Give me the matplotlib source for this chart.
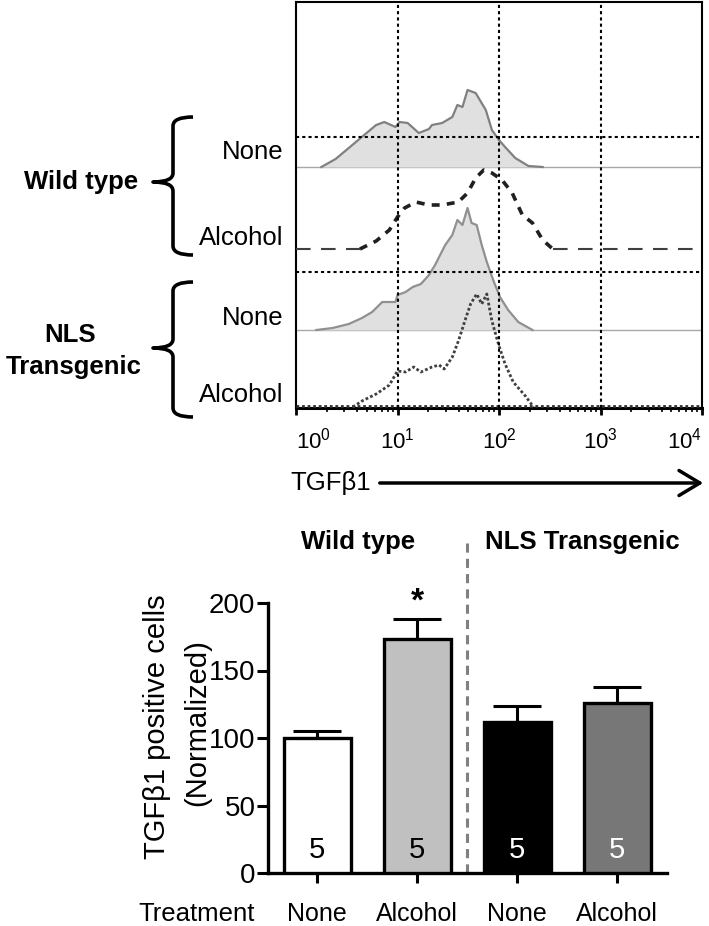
import numpy as np
import matplotlib
matplotlib.use("Agg")
import matplotlib.pyplot as plt
from matplotlib.path import Path
from matplotlib.patches import PathPatch
from matplotlib.ticker import LogLocator, NullFormatter

plt.rcParams['font.family'] = ['Liberation Sans', 'DejaVu Sans']
plt.rcParams['mathtext.fontset'] = 'custom'
plt.rcParams['mathtext.rm'] = 'Liberation Sans'
plt.rcParams['mathtext.it'] = 'Liberation Sans:italic'

W, H = 709, 926

# ---- flow histograms (x in log10 of TGFb1 intensity, height in arbitrary units) ----
wt_none_logx = [0.25, 0.39, 0.52, 0.66, 0.79, 0.87, 0.98, 1.02, 1.10, 1.21, 1.31, 1.34,
                1.44, 1.54, 1.59, 1.64, 1.69, 1.77, 1.87, 1.93, 2.00, 2.06, 2.16, 2.29, 2.43]
wt_none_h = [0, 8, 19, 31, 42, 45, 40, 45, 44, 34, 38, 42,
             44, 50, 62, 60, 77, 74, 57, 37, 27, 20, 9, 1, 0]

wt_alc_logx = [0.63, 0.79, 0.92, 1.00, 1.07, 1.18, 1.31, 1.44, 1.60, 1.69, 1.77, 1.85,
               1.93, 2.03, 2.13, 2.23, 2.33, 2.43, 2.53]
wt_alc_h = [0, 8, 19, 32, 41, 47, 44, 44, 47, 56, 71, 79,
            76, 69, 56, 34, 26, 9, 0]

nls_none_logx = [0.20, 0.36, 0.52, 0.65, 0.75, 0.85, 0.98, 1.00, 1.08, 1.15, 1.23, 1.31,
                 1.37, 1.47, 1.54, 1.59, 1.64, 1.69, 1.73, 1.78, 1.83, 1.88, 1.95, 2.01,
                 2.09, 2.19, 2.33]
nls_none_h = [0, 2, 6, 12, 18, 28, 28, 35, 38, 43, 46, 55,
              65, 85, 95, 110, 105, 122, 107, 105, 85, 68, 48, 33,
              20, 8, 0]

nls_alc_logx = [0.56, 0.65, 0.79, 0.92, 1.00, 1.08, 1.16, 1.23, 1.34, 1.41, 1.46, 1.54,
                1.60, 1.67, 1.72, 1.78, 1.83, 1.88, 1.93, 2.00, 2.06, 2.14, 2.26, 2.34]
nls_alc_h = [0, 6, 13, 22, 36, 35, 40, 35, 40, 42, 38, 50,
             66, 88, 103, 113, 103, 113, 86, 61, 43, 25, 11, 0]

decades = [1, 10, 100, 1000, 10000]
decade_labels = ['$10^0$', '$10^1$', '$10^2$', '$10^3$', '$10^4$']

# ---- bar chart ----
groups = ['None', 'Alcohol', 'None', 'Alcohol']
means = [100, 173, 112, 126]
sems = [5, 15, 12, 12]
n_mice = [5, 5, 5, 5]
bar_colors = ['white', '#c0c0c0', 'black', '#777777']
n_colors = ['black', 'black', 'white', 'white']


def fx(px):
    return px / W


def fy(py):
    return 1 - py / H


fig = plt.figure(figsize=(W / 100, H / 100), dpi=100)

# ================= top: histograms =================
ax = fig.add_axes([fx(296), fy(408), 406 / W, 406 / H])
ax.set_xscale('log')
ax.set_xlim(1, 10000)
ax.set_ylim(0, 406)

offsets = [241, 159, 78, 0]
x_full = np.array([1, 10000])

# wild type, none: grey filled
xs = 10 ** np.array(wt_none_logx)
ys = np.array(wt_none_h) + offsets[0]
ax.plot(x_full, [offsets[0]] * 2, color='#a8a8a8', lw=1, zorder=1)
ax.fill_between(xs, offsets[0], ys, color='#e0e0e0', lw=0, zorder=1)
ax.plot(xs, ys, color='#808080', lw=1.6, zorder=2)

# nls none: grey filled
xs = 10 ** np.array(nls_none_logx)
ys = np.array(nls_none_h) + offsets[2]
ax.plot(x_full, [offsets[2]] * 2, color='#a8a8a8', lw=1, zorder=1)
ax.fill_between(xs, offsets[2], ys, color='#e0e0e0', lw=0, zorder=1)
ax.plot(xs, ys, color='#909090', lw=1.6, zorder=2)

# wild type, alcohol: dashed
xs = 10 ** np.array(wt_alc_logx)
ys = np.array(wt_alc_h) + offsets[1]
ax.plot([1, xs[0]], [offsets[1]] * 2, color='#404040', lw=1.5, ls=(0, (7, 5)), zorder=3)
ax.plot([xs[-1], 10000], [offsets[1]] * 2, color='#404040', lw=1.5, ls=(0, (7, 5)), zorder=3)
ax.plot(xs, ys, color='#202020', lw=2.6, ls=(0, (2.2, 2)), zorder=3)

# nls alcohol: dotted
xs = 10 ** np.array(nls_alc_logx)
ys = np.array(nls_alc_h) + offsets[3] + 1
ax.plot(x_full, [1.5, 1.5], color='#303030', lw=2, ls=(0, (1, 1)), zorder=3)
ax.plot(xs, ys, color='#404040', lw=2, ls=(0, (1, 0.8)), zorder=3)

# dotted grid
for d in decades[1:4]:
    ax.axvline(d, color='black', lw=1.5, ls=(0, (1.5, 1.5)), zorder=4)
for hy in [271, 136]:
    ax.axhline(hy, color='black', lw=1.5, ls=(0, (1.5, 1.5)), zorder=4)

ax.set_yticks([])
ax.set_xticks(decades)
ax.set_xticklabels(decade_labels, fontsize=16)
tl = ax.get_xticklabels()
tl[0].set_ha('left')
tl[-1].set_ha('right')
ax.xaxis.set_minor_locator(LogLocator(base=10, subs=range(2, 10)))
ax.xaxis.set_minor_formatter(NullFormatter())
ax.tick_params(axis='x', which='major', direction='out', length=5, width=2, pad=9)
ax.tick_params(axis='x', which='minor', direction='out', length=3, width=1.2)
for s in ['left', 'top', 'right']:
    ax.spines[s].set_linewidth(1.5)
ax.spines['bottom'].set_linewidth(2.2)

# row labels
row_y = [152, 238, 318, 395]
row_txt = ['None', 'Alcohol', 'None', 'Alcohol']
for t, yy in zip(row_txt, row_y):
    fig.text(fx(283), fy(yy), t, ha='right', va='center', fontsize=18.5)

fig.text(fx(81), fy(182), 'Wild type', ha='center', va='center', fontsize=18.5, fontweight='bold')
fig.text(fx(70), fy(335), 'NLS', ha='center', va='center', fontsize=18.5, fontweight='bold')
fig.text(fx(74), fy(367), 'Transgenic', ha='center', va='center', fontsize=18.5, fontweight='bold')


def brace(x, ytop, ybot, ymid):
    w, tip, r = 20, 20, 9
    pts = [(x + w, ytop), (x, ytop), (x, ytop + r),
           (x, ymid - r), (x, ymid), (x - tip, ymid),
           (x, ymid), (x, ymid + r),
           (x, ybot - r), (x, ybot), (x + w, ybot)]
    codes = [Path.MOVETO, Path.CURVE3, Path.CURVE3,
             Path.LINETO, Path.CURVE3, Path.CURVE3,
             Path.CURVE3, Path.CURVE3,
             Path.LINETO, Path.CURVE3, Path.CURVE3]
    verts = [(fx(px), fy(py)) for px, py in pts]
    p = PathPatch(Path(verts, codes), transform=fig.transFigure, fill=False,
                  lw=2.6, edgecolor='black', capstyle='butt', joinstyle='round')
    fig.add_artist(p)


brace(173, 117, 255, 182)
brace(173, 282, 417, 348)

# TGFb1 arrow
fig.text(fx(290), fy(483), 'TGFβ1', ha='left', va='center', fontsize=18.5)
fig.add_artist(matplotlib.patches.FancyArrowPatch(
    (fx(377), fy(483)), (fx(706), fy(483)), transform=fig.transFigure,
    arrowstyle='->,head_length=0.5,head_width=0.3', mutation_scale=30,
    lw=2.5, color='black'))

# ================= bottom: bar chart =================
ax2 = fig.add_axes([fx(268), fy(873), 399 / W, 270 / H])
pos = np.arange(len(means))
ax2.errorbar(pos, means, yerr=[np.zeros(len(sems)), sems], fmt='none', ecolor='black',
             elinewidth=2.2, capsize=17, capthick=2.2, zorder=2)
ax2.bar(pos, means, width=0.67, color=bar_colors, edgecolor='black', linewidth=2.4, zorder=3)
for p_, n, c in zip(pos, n_mice, n_colors):
    ax2.text(p_, 17, str(n), ha='center', va='center', fontsize=21, color=c, zorder=4)

ax2.text(pos[1], 201, '*', ha='center', va='center', fontsize=24, fontweight='bold', clip_on=False)
ax2.plot([1.5, 1.5], [0, 247], color='#808080', lw=2.2, ls=(0, (3, 2)), clip_on=False, zorder=1)

ax2.set_xlim(-0.49, 3.5)
ax2.set_ylim(0, 200)
ax2.set_yticks([0, 50, 100, 150, 200])
ax2.set_xticks(pos)
ax2.set_xticklabels(groups, fontsize=18)
ax2.tick_params(axis='y', labelsize=20, length=8, width=2.2, pad=1)
ax2.tick_params(axis='x', length=7, width=2.2, pad=14)
for s in ['top', 'right']:
    ax2.spines[s].set_visible(False)
for s in ['left', 'bottom']:
    ax2.spines[s].set_linewidth(2.4)

fig.text(fx(157), fy(727), 'TGFβ1 positive cells', rotation=90, ha='center', va='center', fontsize=21)
fig.text(fx(197), fy(723), '(Normalized)', rotation=90, ha='center', va='center', fontsize=21)
fig.text(fx(255), fy(914), 'Treatment', ha='right', va='center', fontsize=18.5)

fig.text(fx(358), fy(542), 'Wild type', ha='center', va='center', fontsize=18.5, fontweight='bold')
fig.text(fx(582), fy(542), 'NLS Transgenic', ha='center', va='center', fontsize=18.5, fontweight='bold')

fig.savefig('out.png', dpi=100)
